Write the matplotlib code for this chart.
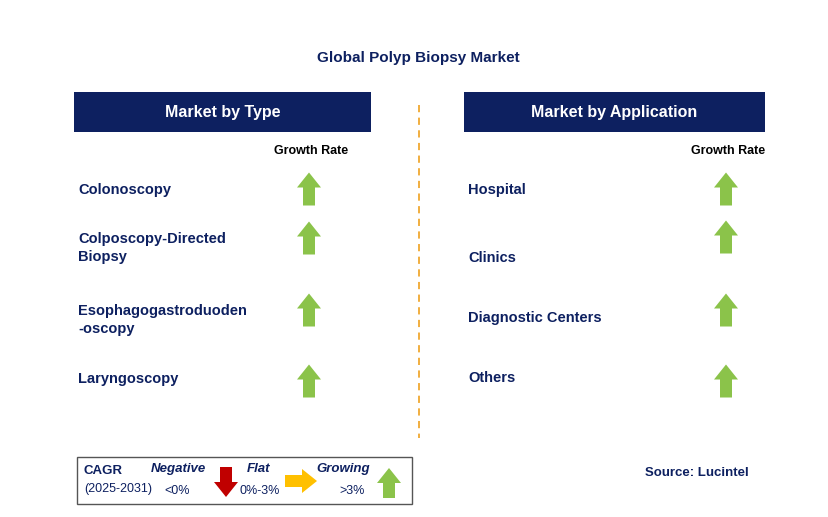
import matplotlib.pyplot as plt
from matplotlib.patches import Rectangle, Polygon

plt.rcParams["font.family"] = "Liberation Sans"

# data
title = "Global Polyp Biopsy Market"
type_labels = ["Colonoscopy", "Colposcopy-Directed\nBiopsy", "Esophagogastroduoden\n-oscopy", "Laryngoscopy"]
type_trend = ["up", "up", "up", "up"]
app_labels = ["Hospital", "Clinics", "Diagnostic Centers", "Others"]
app_trend = ["up", "up", "up", "up"]
source = "Source: Lucintel"

NAVY = "#0d2060"
GREEN = "#8bc34a"
RED = "#c00000"
YELLOW = "#ffc000"

fig = plt.figure(figsize=(8.29, 5.17), dpi=100)
ax = fig.add_axes([0, 0, 1, 1])
ax.set_xlim(0, 829)
ax.set_ylim(517, 0)
ax.axis("off")


def arrow(x, y, kind, w=24, h=33):
    # x, y = center of the arrow
    if kind == "up":
        pts = [(x - 6, y + h / 2), (x + 6, y + h / 2), (x + 6, y - h / 2 + 15),
               (x + w / 2, y - h / 2 + 15), (x, y - h / 2), (x - w / 2, y - h / 2 + 15),
               (x - 6, y - h / 2 + 15)]
        c = GREEN
    elif kind == "down":
        pts = [(x - 6, y - h / 2), (x + 6, y - h / 2), (x + 6, y + h / 2 - 15),
               (x + w / 2, y + h / 2 - 15), (x, y + h / 2), (x - w / 2, y + h / 2 - 15),
               (x - 6, y + h / 2 - 15)]
        c = RED
    else:
        pts = [(x - h / 2, y - 6), (x - h / 2, y + 6), (x + h / 2 - 15, y + 6),
               (x + h / 2 - 15, y + w / 2), (x + h / 2, y), (x + h / 2 - 15, y - w / 2),
               (x + h / 2 - 15, y - 6)]
        c = YELLOW
    ax.add_patch(Polygon(pts, closed=True, facecolor=c, edgecolor="none"))


ax.text(418, 58, title, ha="center", va="center", fontsize=11, fontweight="bold", color=NAVY)

rows_left = [190, 248, 320, 379]
rows_left_arrow = [189, 238, 310, 381]
rows_right = [190, 258, 318, 378]
rows_right_arrow = [189, 237, 310, 381]

panels = [(74, 371, "Market by Type", type_labels, type_trend, rows_left, rows_left_arrow, 309),
          (464, 765, "Market by Application", app_labels, app_trend, rows_right, rows_right_arrow, 726)]
for x0, x1, head, labels, trend, ys, ays, ax_x in panels:
    ax.add_patch(Rectangle((x0, 92), x1 - x0, 40, facecolor=NAVY, edgecolor="none"))
    ax.text((x0 + x1) / 2, 112, head, ha="center", va="center", fontsize=11.5,
            fontweight="bold", color="white")
    ax.text(ax_x + 2, 151, "Growth Rate", ha="center", va="center", fontsize=9,
            fontweight="bold", color="black")
    for lab, t, y, ay in zip(labels, trend, ys, ays):
        ax.text(x0 + 4, y, lab, ha="left", va="center", fontsize=10.5, fontweight="bold",
                color=NAVY, linespacing=1.45)
        arrow(ax_x, ay, t)

ax.plot([419, 419], [105, 438], color="#f0a830", linestyle=(0, (4, 3)), linewidth=1.3)

# legend box
ax.add_patch(Rectangle((77, 457), 335, 47, facecolor="white", edgecolor="#555555", linewidth=1))
ax.text(84, 471, "CAGR", fontsize=9.5, fontweight="bold", color=NAVY, va="center")
ax.text(84, 489, "(2025-2031)", fontsize=9, color=NAVY, va="center")
ax.text(178, 469, "Negative", fontsize=9.5, fontweight="bold", style="italic", color=NAVY, va="center", ha="center")
ax.text(177, 491, "<0%", fontsize=9, color=NAVY, va="center", ha="center")
arrow(226, 482, "down", h=30)
ax.text(259, 469, "Flat", fontsize=9.5, fontweight="bold", style="italic", color=NAVY, va="center", ha="center")
ax.text(260, 491, "0%-3%", fontsize=9, color=NAVY, va="center", ha="center")
arrow(301, 481, "flat", h=32)
ax.text(343, 469, "Growing", fontsize=9.5, fontweight="bold", style="italic", color=NAVY, va="center", ha="center")
ax.text(352, 491, ">3%", fontsize=9, color=NAVY, va="center", ha="center")
arrow(389, 483, "up", h=30)

ax.text(749, 473, source, ha="right", va="center", fontsize=9.5, fontweight="bold", color=NAVY)

fig.savefig("out.png", dpi=100)
